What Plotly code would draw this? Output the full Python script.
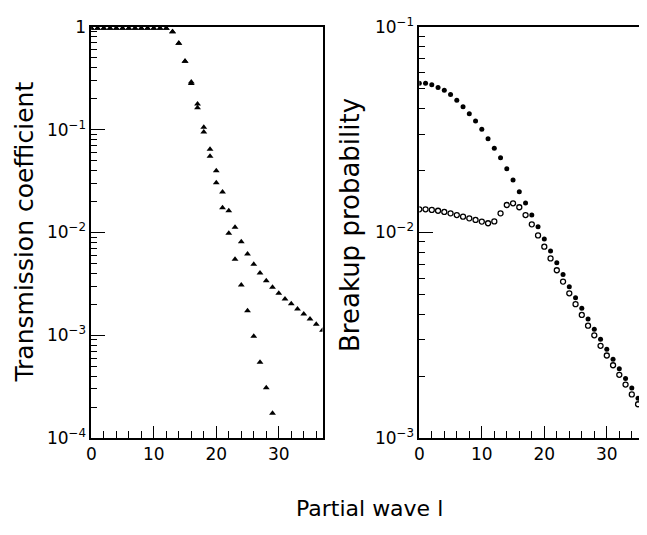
import plotly.graph_objects as go

# ---------------- data ----------------
l_steep = list(range(0, 30))
trans_steep = [0.97, 0.97, 0.97, 0.97, 0.97, 0.97, 0.97, 0.97, 0.97, 0.97,
               0.97, 0.97, 0.97, 0.90, 0.693, 0.463, 0.282, 0.164, 0.0951, 0.0552,
               0.0305, 0.01746, 0.00982, 0.00548, 0.00308, 0.00173, 0.000977,
               0.000546, 0.000309, 0.000174]

l_shallow = list(range(0, 38))
trans_shallow = [0.97, 0.97, 0.97, 0.97, 0.97, 0.97, 0.97, 0.97, 0.97, 0.97,
                 0.97, 0.97, 0.97, 0.90, 0.693, 0.463, 0.292, 0.178, 0.1057, 0.0646,
                 0.0398, 0.0248, 0.0163, 0.01122, 0.00815, 0.00618, 0.0049, 0.00404,
                 0.0034, 0.00293, 0.00256, 0.00225, 0.00203, 0.0018, 0.00161,
                 0.00144, 0.00128, 0.00112]

l_breakup = list(range(0, 37))
breakup_filled = [0.0532, 0.0532, 0.0524, 0.0508, 0.0492, 0.0469, 0.0440, 0.0409,
                  0.0378, 0.0349, 0.0318, 0.0286, 0.0257, 0.0231, 0.0204, 0.0180,
                  0.0158, 0.0139, 0.01216, 0.01067, 0.00929, 0.00813, 0.00713,
                  0.00624, 0.00545, 0.00482, 0.00428, 0.00379, 0.00338, 0.00302,
                  0.0027, 0.00242, 0.00217, 0.00195, 0.00175, 0.00156, 0.00139]
breakup_open = [0.01297, 0.01297, 0.01288, 0.01276, 0.01259, 0.01239, 0.01216,
                0.01194, 0.01172, 0.01151, 0.0113, 0.01109, 0.01132, 0.01239,
                0.01361, 0.01387, 0.01327, 0.01216, 0.01096, 0.00968, 0.00853,
                0.00748, 0.00655, 0.00577, 0.00506, 0.00448, 0.00397, 0.00352,
                0.00316, 0.00281, 0.00252, 0.00226, 0.00203, 0.00182, 0.00163,
                0.00146, 0.00129]

x_ticks = [0, 10, 20, 30]
x_ticklabels = ["0", "10", "20", "30"]
x_minor = [2, 4, 6, 8, 12, 14, 16, 18, 22, 24, 26, 28, 32, 34, 36]
left_yticks = [1e-4, 1e-3, 1e-2, 1e-1, 1]
left_yticklabels = ["10<sup>−4</sup>", "10<sup>−3</sup>", "10<sup>−2</sup>",
                    "10<sup>−1</sup>", "1"]
right_yticks = [1e-3, 1e-2, 1e-1]
right_yticklabels = ["10<sup>−3</sup>", "10<sup>−2</sup>", "10<sup>−1</sup>"]
minor_mult = [2, 3, 4, 5, 6, 7, 8, 9]


def minor_vals(decades):
    return [m * 10.0 ** d for d in decades for m in minor_mult]


# page has an 8px body margin; figure is sized to fit the 647x535 window
OFF = 8
W, H = 647 - OFF, 535 - OFF
FONT = "DejaVu Sans"


def px(xw):
    return (xw - OFF) / W


def py(yw):
    return (H - (yw - OFF)) / H


fig = go.Figure()
tri = dict(symbol="triangle-up", size=6, color="black")
fig.add_trace(go.Scatter(x=l_steep, y=trans_steep, mode="markers", marker=tri,
                         xaxis="x", yaxis="y", showlegend=False))
fig.add_trace(go.Scatter(x=l_shallow, y=trans_shallow, mode="markers", marker=tri,
                         xaxis="x", yaxis="y", showlegend=False))
fig.add_trace(go.Scatter(x=l_breakup, y=breakup_filled, mode="markers",
                         marker=dict(symbol="circle", size=5, color="black"),
                         xaxis="x2", yaxis="y2", showlegend=False))
fig.add_trace(go.Scatter(x=l_breakup, y=breakup_open, mode="markers",
                         marker=dict(symbol="circle-open", size=5, color="black",
                                     line=dict(width=1.3, color="black")),
                         xaxis="x2", yaxis="y2", showlegend=False))

ydom = [py(438), py(27)]
x1dom = [px(91.3), px(322.5)]
x2dom = [px(419.3), 1.0]

common_x = dict(
    tickvals=x_ticks, ticktext=x_ticklabels, ticks="inside", ticklen=12,
    tickwidth=1.2, tickcolor="black", showline=True, linecolor="black",
    linewidth=1.5, showgrid=False, zeroline=False, automargin=False,
    tickfont=dict(family=FONT, size=17, color="black"),
    minor=dict(tickvals=x_minor, ticks="inside", ticklen=7, tickwidth=1.2,
               tickcolor="black", showgrid=False),
)

fig.update_layout(
    width=W, height=H,
    margin=dict(l=0, r=0, t=0, b=0, autoexpand=False),
    paper_bgcolor="white", plot_bgcolor="white",
    xaxis=dict(domain=x1dom, range=[0, 37], anchor="y", mirror=True, **common_x),
    xaxis2=dict(domain=x2dom, range=[0, (647 - 419.3) / 6.25], anchor="y2",
                mirror=True, **common_x),
    yaxis=dict(
        domain=ydom, type="log", range=[-4, 0], anchor="x", automargin=False,
        tickvals=left_yticks, ticktext=left_yticklabels, ticks="inside",
        ticklen=14, tickwidth=1.2, tickcolor="black", showline=True,
        linecolor="black", linewidth=1.5, mirror=True, showgrid=False,
        zeroline=False, tickfont=dict(family=FONT, size=17, color="black"),
        minor=dict(tickvals=minor_vals([-4, -3, -2, -1]), ticks="inside",
                   ticklen=6, tickwidth=1.2, tickcolor="black", showgrid=False),
    ),
    yaxis2=dict(
        domain=ydom, type="log", range=[-3, -1], anchor="x2", automargin=False,
        tickvals=right_yticks, ticktext=right_yticklabels, ticks="inside",
        ticklen=14, tickwidth=1.2, tickcolor="black", showline=True,
        linecolor="black", linewidth=1.5, showgrid=False,
        zeroline=False, tickfont=dict(family=FONT, size=17, color="black"),
        minor=dict(tickvals=minor_vals([-3, -2]), ticks="inside",
                   ticklen=6, tickwidth=1.2, tickcolor="black", showgrid=False),
    ),
    annotations=[
        dict(text="Transmission coefficient", xref="paper", yref="paper",
             x=px(24), y=py(232.5), xanchor="center", yanchor="middle",
             textangle=-90, showarrow=False,
             font=dict(family=FONT, size=25, color="black")),
        dict(text="Breakup probability", xref="paper", yref="paper",
             x=px(350), y=py(225), xanchor="center", yanchor="middle",
             textangle=-90, showarrow=False,
             font=dict(family=FONT, size=26, color="black")),
        dict(text="Partial wave l", xref="paper", yref="paper",
             x=px(369), y=py(508), xanchor="center", yanchor="middle",
             showarrow=False, font=dict(family=FONT, size=22, color="black")),
    ],
)

fig.write_html("out.html")
